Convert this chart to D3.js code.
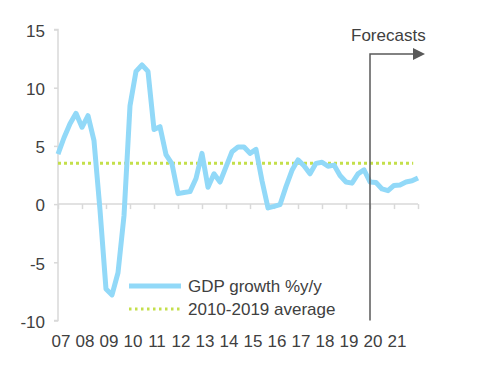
<!DOCTYPE html>
<html><head><meta charset="utf-8">
<script src="https://cdn.jsdelivr.net/npm/d3@7"></script>
<style>body{margin:0;background:#fff}svg{display:block}text{font-family:"Liberation Sans",Arial,sans-serif;fill:#404040}</style>
</head><body><svg id="c" width="493" height="365"></svg>
<script>
// quarterly GDP growth %y/y, 2007Q1 .. 2022Q1
const startYear = 2007;
const gdpGrowth = [4.3,5.7,6.9,7.8,6.6,7.6,5.45,-0.5,-7.3,-7.8,-5.9,-1.0,
  8.45,11.4,11.95,11.4,6.4,6.65,4.25,3.45,0.9,1.0,1.07,2.2,
  4.36,1.45,2.6,1.9,3.2,4.5,4.9,4.9,4.36,4.7,2.0,-0.33,
  -0.2,-0.05,1.5,2.9,3.8,3.3,2.6,3.5,3.6,3.25,3.35,2.45,
  1.9,1.8,2.6,2.95,1.9,1.85,1.3,1.15,1.6,1.65,1.9,2.0,2.25];
const average = 3.5;
const avgRange = [2007, 2021.8];
const yTicks = [-10,-5,0,5,10,15];
const xTickLabels = ["07","08","09","10","11","12","13","14","15","16","17","18","19","20","21"];
const forecastYear = 2020;
const legendLabels = ["GDP growth %y/y","2010-2019 average"];

const FS = "17px";
const svg = d3.select("#c");
const x = d3.scaleLinear().domain([2007,2022]).range([58,418]);
const y = d3.scaleLinear().domain([-10,15]).range([320.5,29.5]);

// y axis
const ya = svg.append("g").attr("transform","translate(58,0)")
  .call(d3.axisLeft(y).tickValues(yTicks).tickSize(4).tickPadding(9).tickFormat(d=>String(d)));
ya.select(".domain").attr("stroke","#d9d9d9").attr("stroke-width",1.5).attr("d",`M-4,${y(15)}H0V${y(-10)}H-4`);
ya.selectAll(".tick line").attr("stroke","#d9d9d9").attr("stroke-width",1.5);
ya.selectAll(".tick text").style("font-size",FS).attr("fill","#404040").attr("font-family","Liberation Sans, Arial, sans-serif").attr("dy","0.4em");

// x axis at zero
const xYears = d3.range(2007,2023);
const xa = svg.append("g").attr("transform",`translate(0,${y(0)})`)
  .call(d3.axisBottom(x).tickValues(xYears).tickSize(5).tickFormat(""));
xa.select(".domain").attr("stroke","#d9d9d9").attr("stroke-width",1.5).attr("d",`M${x(2007)},0H${x(2022)}`);
xa.selectAll(".tick line").attr("stroke","#d9d9d9").attr("stroke-width",1.5);

// x labels
svg.append("g").selectAll("text").data(xTickLabels).join("text")
  .attr("x",(d,i)=>x(startYear+i)+3).attr("y",347)
  .attr("text-anchor","middle").style("font-size",FS).text(d=>d);

// average line
svg.append("line").attr("x1",x(avgRange[0])).attr("x2",x(avgRange[1]))
  .attr("y1",y(average)).attr("y2",y(average))
  .attr("stroke","#c4df4a").attr("stroke-width",3).attr("stroke-dasharray","3,3");

// gdp line
const line = d3.line().x((d,i)=>x(startYear+i/4)).y(d=>y(d));
svg.append("path").datum(gdpGrowth).attr("d",line).attr("fill","none")
  .attr("stroke","#92d9f8").attr("stroke-width",5).attr("stroke-linejoin","round");

// forecast marker
const fx = x(forecastYear);
svg.append("path").attr("d",`M${fx},${y(-10)}V54H413`).attr("fill","none").attr("stroke","#595959").attr("stroke-width",1.5);
svg.append("path").attr("d","M413,48L425,54L413,60Z").attr("fill","#595959");
svg.append("text").attr("x",351).attr("y",41).style("font-size",FS).text("Forecasts");

// legend
svg.append("line").attr("x1",129).attr("x2",181).attr("y1",286).attr("y2",286).attr("stroke","#92d9f8").attr("stroke-width",5);
svg.append("line").attr("x1",129).attr("x2",181).attr("y1",309).attr("y2",309).attr("stroke","#c4df4a").attr("stroke-width",3).attr("stroke-dasharray","2.5,3.5");
svg.append("text").attr("x",188).attr("y",292).style("font-size",FS).text(legendLabels[0]);
svg.append("text").attr("x",188).attr("y",315).style("font-size",FS).text(legendLabels[1]);
</script></body></html>
